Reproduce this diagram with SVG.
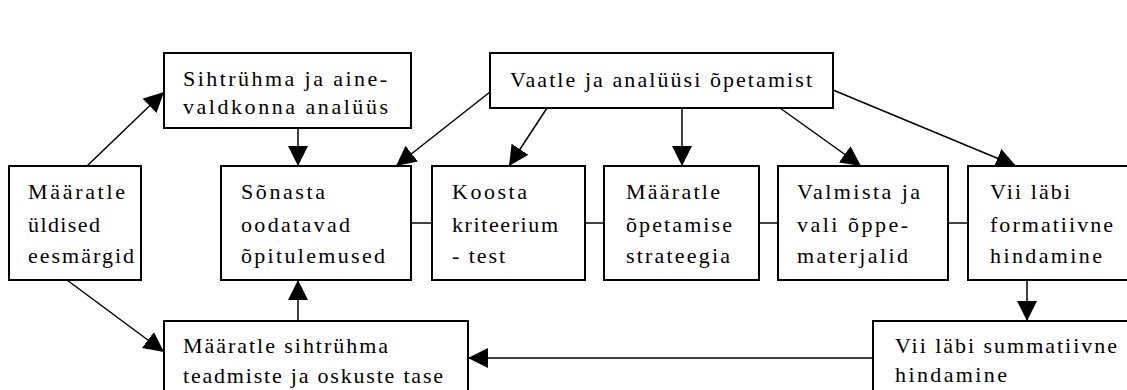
<svg xmlns="http://www.w3.org/2000/svg" width="1127" height="390" viewBox="0 0 1127 390">
<style>
.box{fill:#fff;stroke:#000;stroke-width:2}
.t{font-family:"Liberation Serif","Times New Roman",serif;font-size:22px;fill:#000}
.c{stroke:#000;stroke-width:1.5;fill:none}
.a{marker-end:url(#ah)}
</style>
<defs>
<marker id="ah" markerUnits="userSpaceOnUse" markerWidth="22" markerHeight="22" refX="20" refY="10" orient="auto">
<path d="M0,0 L20,10 L0,20 Z" fill="#000"/>
</marker>
</defs>
<rect width="1127" height="390" fill="#fff"/>
<g id="connectors">
<line class="c a" x1="87" y1="166" x2="164" y2="92"/>
<line class="c a" x1="298" y1="128" x2="298" y2="166"/>
<line class="c a" x1="490" y1="92" x2="396" y2="166"/>
<line class="c a" x1="547" y1="108" x2="509" y2="166"/>
<line class="c a" x1="682" y1="108" x2="682" y2="166"/>
<line class="c a" x1="780" y1="108" x2="861" y2="166"/>
<line class="c a" x1="833" y1="90" x2="1016" y2="166"/>
<line class="c" x1="411" y1="223" x2="432" y2="223"/>
<line class="c" x1="585" y1="223" x2="604" y2="223"/>
<line class="c" x1="759" y1="223" x2="778" y2="223"/>
<line class="c" x1="948" y1="223" x2="968" y2="223"/>
<line class="c a" x1="1027" y1="280" x2="1027" y2="321"/>
<line class="c a" x1="873" y1="358" x2="468" y2="358"/>
<line class="c a" x1="298" y1="321" x2="298" y2="280"/>
<line class="c a" x1="67" y1="280" x2="164" y2="352"/>
</g>
<g id="n_sihtryhm">
<rect class="box" x="164" y="53" width="247" height="75"/>
<text class="t" x="183" y="86" textLength="204" lengthAdjust="spacing">Sihtrühma ja aine-</text>
<text class="t" x="183" y="114" textLength="205" lengthAdjust="spacing">valdkonna analüüs</text>
</g>
<g id="n_vaatle">
<rect class="box" x="490" y="53" width="343" height="55"/>
<text class="t" x="510" y="87" textLength="302" lengthAdjust="spacing">Vaatle ja analüüsi õpetamist</text>
</g>
<g id="n_yldised">
<rect class="box" x="9" y="166" width="132" height="114"/>
<text class="t" x="28" y="199" textLength="97" lengthAdjust="spacing">Määratle</text>
<text class="t" x="28" y="232" textLength="72" lengthAdjust="spacing">üldised</text>
<text class="t" x="28" y="263" textLength="106" lengthAdjust="spacing">eesmärgid</text>
</g>
<g id="n_sonasta">
<rect class="box" x="221" y="166" width="190" height="114"/>
<text class="t" x="241" y="199" textLength="84" lengthAdjust="spacing">Sõnasta</text>
<text class="t" x="241" y="232" textLength="109" lengthAdjust="spacing">oodatavad</text>
<text class="t" x="241" y="263" textLength="144" lengthAdjust="spacing">õpitulemused</text>
</g>
<g id="n_koosta">
<rect class="box" x="432" y="166" width="153" height="114"/>
<text class="t" x="452" y="199" textLength="75" lengthAdjust="spacing">Koosta</text>
<text class="t" x="452" y="232" textLength="106" lengthAdjust="spacing">kriteerium</text>
<text class="t" x="452" y="263" textLength="53" lengthAdjust="spacing">- test</text>
</g>
<g id="n_strateegia">
<rect class="box" x="604" y="166" width="155" height="114"/>
<text class="t" x="626" y="199" textLength="94" lengthAdjust="spacing">Määratle</text>
<text class="t" x="626" y="232" textLength="106" lengthAdjust="spacing">õpetamise</text>
<text class="t" x="626" y="263" textLength="104" lengthAdjust="spacing">strateegia</text>
</g>
<g id="n_valmista">
<rect class="box" x="778" y="166" width="170" height="114"/>
<text class="t" x="797" y="199" textLength="123" lengthAdjust="spacing">Valmista ja</text>
<text class="t" x="797" y="232" textLength="111" lengthAdjust="spacing">vali õppe-</text>
<text class="t" x="797" y="263" textLength="111" lengthAdjust="spacing">materjalid</text>
</g>
<g id="n_formatiivne">
<rect class="box" x="968" y="166" width="170" height="114"/>
<text class="t" x="990" y="199" textLength="80" lengthAdjust="spacing">Vii läbi</text>
<text class="t" x="990" y="232" textLength="123" lengthAdjust="spacing">formatiivne</text>
<text class="t" x="990" y="263" textLength="112" lengthAdjust="spacing">hindamine</text>
</g>
<g id="n_tase">
<rect class="box" x="164" y="321" width="304" height="80"/>
<text class="t" x="183" y="353" textLength="205" lengthAdjust="spacing">Määratle sihtrühma</text>
<text class="t" x="183" y="383" textLength="260" lengthAdjust="spacing">teadmiste ja oskuste tase</text>
</g>
<g id="n_summatiivne">
<rect class="box" x="873" y="321" width="270" height="80"/>
<text class="t" x="895" y="353" textLength="222" lengthAdjust="spacing">Vii läbi summatiivne</text>
<text class="t" x="895" y="382" textLength="112" lengthAdjust="spacing">hindamine</text>
</g>
</svg>
